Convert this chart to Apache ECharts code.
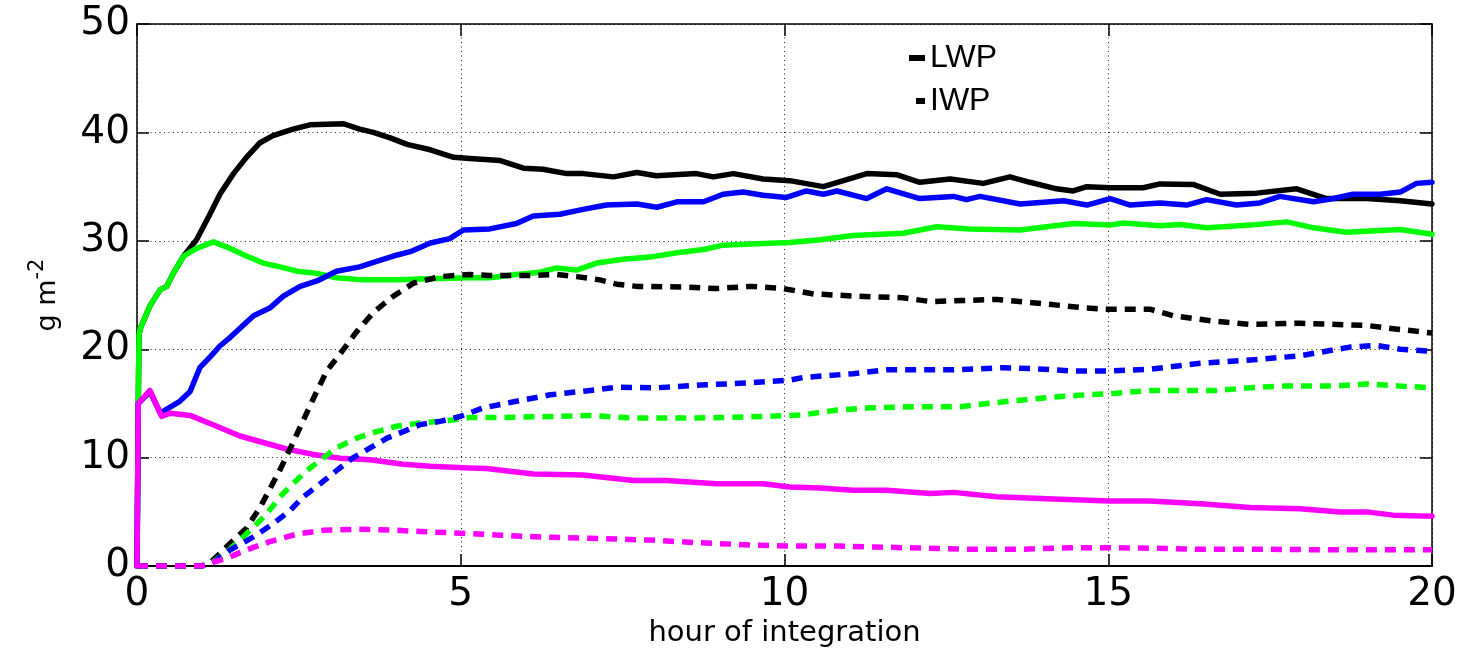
<!DOCTYPE html>
<html>
<head>
<meta charset="utf-8">
<script src="https://cdn.jsdelivr.net/npm/echarts@6/dist/echarts.min.js"></script>
<style>
html,body{margin:0;padding:0;background:#fff;}
#chart{width:1466px;height:653px;}
</style>
</head>
<body>
<div id="chart"></div>
<script>
// ---- data: [hour of integration, g m^-2] ----
var xTicks = [0, 5, 10, 15, 20];
var yTicks = [0, 10, 20, 30, 40, 50];

var lwpBlack = [[0,0],[0.02,15],[0.03,21.3],[0.05,21.9],[0.2,24.0],[0.36,25.5],[0.46,25.8],[0.56,27.0],[0.72,28.6],[0.92,30.1],[1.13,32.5],[1.28,34.3],[1.49,36.2],[1.69,37.7],[1.9,39.05],[2.1,39.7],[2.41,40.3],[2.67,40.7],[3.19,40.8],[3.44,40.3],[3.65,40.0],[3.91,39.5],[4.17,38.9],[4.53,38.4],[4.89,37.7],[5.14,37.6],[5.61,37.4],[5.97,36.7],[6.27,36.6],[6.64,36.2],[6.89,36.2],[7.36,35.9],[7.72,36.3],[8.02,36.0],[8.64,36.2],[8.9,35.9],[9.21,36.2],[9.67,35.7],[10.08,35.55],[10.6,35.0],[10.91,35.55],[11.27,36.2],[11.73,36.1],[12.09,35.4],[12.56,35.7],[13.07,35.3],[13.48,35.9],[13.79,35.4],[14.2,34.8],[14.46,34.6],[14.67,35.0],[15.03,34.9],[15.54,34.9],[15.8,35.25],[16.31,35.2],[16.73,34.3],[17.29,34.4],[17.91,34.8],[18.37,33.9],[18.99,33.9],[19.51,33.7],[20,33.4]];

var lwpGreen = [[0,0],[0.02,15],[0.03,21.3],[0.05,21.9],[0.2,24.0],[0.36,25.5],[0.46,25.8],[0.56,27.0],[0.72,28.6],[0.92,29.3],[1.18,29.9],[1.44,29.3],[1.69,28.6],[1.95,27.95],[2.21,27.6],[2.47,27.2],[2.78,27.0],[3.08,26.6],[3.49,26.4],[4.01,26.4],[4.53,26.5],[5.14,26.6],[5.45,26.6],[5.86,26.9],[6.22,27.1],[6.48,27.5],[6.79,27.3],[7.1,27.95],[7.51,28.3],[7.92,28.5],[8.34,28.9],[8.75,29.2],[9.05,29.6],[9.47,29.7],[10.08,29.85],[10.55,30.1],[11.06,30.5],[11.83,30.7],[12.35,31.3],[12.86,31.1],[13.64,31.0],[14.05,31.3],[14.46,31.6],[15.03,31.45],[15.23,31.65],[15.8,31.4],[16.11,31.5],[16.52,31.2],[17.19,31.45],[17.76,31.75],[18.17,31.2],[18.68,30.8],[19.51,31.05],[20,30.6]];

var lwpBlue = [[0,0],[0.02,15],[0.2,16.1],[0.36,14.1],[0.41,14.3],[0.66,15.2],[0.82,16.1],[0.97,18.3],[1.13,19.3],[1.28,20.3],[1.44,21.1],[1.8,23.1],[2.05,23.8],[2.26,24.9],[2.52,25.8],[2.78,26.3],[3.08,27.2],[3.44,27.6],[3.7,28.1],[3.96,28.6],[4.22,29.0],[4.53,29.8],[4.83,30.2],[5.04,31.0],[5.45,31.1],[5.86,31.6],[6.12,32.3],[6.53,32.45],[6.89,32.9],[7.25,33.3],[7.72,33.4],[8.03,33.1],[8.34,33.6],[8.75,33.6],[9.05,34.3],[9.36,34.5],[9.67,34.2],[10.03,34.0],[10.34,34.6],[10.6,34.3],[10.81,34.6],[11.27,33.9],[11.58,34.8],[12.09,33.9],[12.61,34.1],[12.81,33.8],[13.02,34.1],[13.64,33.4],[14.31,33.7],[14.67,33.3],[15.03,33.9],[15.34,33.3],[15.8,33.5],[16.21,33.3],[16.52,33.8],[16.98,33.3],[17.34,33.5],[17.65,34.1],[18.17,33.6],[18.48,33.9],[18.78,34.3],[19.2,34.3],[19.51,34.5],[19.76,35.3],[20,35.4]];

var lwpMagenta = [[0,0],[0.02,15],[0.2,16.2],[0.38,13.8],[0.51,14.1],[0.82,13.9],[1.23,12.9],[1.59,12.0],[1.95,11.4],[2.31,10.8],[2.72,10.3],[3.14,9.95],[3.6,9.8],[4.11,9.4],[4.53,9.2],[5.14,9.05],[5.4,9.0],[6.12,8.5],[6.89,8.4],[7.67,7.9],[8.18,7.9],[8.95,7.6],[9.67,7.6],[10.08,7.3],[10.55,7.2],[11.06,7.0],[11.58,7.0],[12.25,6.7],[12.61,6.8],[13.28,6.4],[14.15,6.2],[15.03,6.0],[15.64,6.0],[16.42,5.75],[17.19,5.4],[17.96,5.3],[18.58,5.0],[18.99,5.0],[19.4,4.7],[20,4.6]];

var iwpBlack = [[0,0],[1.0,0],[1.13,0.3],[1.44,2.1],[1.69,3.5],[1.9,5.4],[2.21,8.9],[2.41,11.4],[2.72,15.4],[2.93,18.0],[3.14,19.6],[3.39,21.6],[3.65,23.4],[3.96,24.9],[4.27,26.1],[4.68,26.7],[5.14,26.9],[5.45,26.8],[6.12,26.8],[6.48,26.9],[6.79,26.7],[7.15,26.4],[7.41,26.0],[7.72,25.8],[8.44,25.75],[8.95,25.6],[9.47,25.8],[9.98,25.6],[10.45,25.1],[11.11,24.9],[11.83,24.75],[12.25,24.4],[12.76,24.5],[13.28,24.6],[14.0,24.2],[14.67,23.8],[14.98,23.7],[15.64,23.7],[16.0,23.1],[16.62,22.6],[17.19,22.3],[17.96,22.4],[18.99,22.2],[19.4,21.9],[20,21.5]];

var iwpGreen = [[0,0],[1.0,0],[1.15,0.3],[1.33,1.0],[1.59,2.4],[1.8,3.6],[2.0,4.8],[2.21,6.4],[2.41,7.6],[2.62,8.8],[2.88,10.0],[3.08,10.9],[3.39,11.8],[3.7,12.4],[4.01,12.9],[4.37,13.2],[4.78,13.4],[5.14,13.7],[5.61,13.7],[6.38,13.8],[7.0,13.9],[7.67,13.65],[8.44,13.65],[9.05,13.7],[9.72,13.8],[10.29,13.95],[10.81,14.4],[11.32,14.6],[12.09,14.7],[12.71,14.7],[13.12,15.0],[13.64,15.3],[14.15,15.6],[14.67,15.8],[15.03,15.9],[15.64,16.2],[16.67,16.2],[17.19,16.45],[17.7,16.6],[18.48,16.6],[18.99,16.8],[19.51,16.6],[20,16.45]];

var iwpBlue = [[0,0],[1.0,0],[1.2,0.4],[1.44,1.5],[1.8,2.7],[2.1,3.9],[2.36,5.1],[2.57,6.4],[2.83,7.6],[3.08,8.8],[3.34,10.0],[3.6,10.9],[3.86,11.8],[4.11,12.4],[4.37,13.05],[4.68,13.35],[4.99,13.8],[5.35,14.6],[5.86,15.2],[6.38,15.8],[7.0,16.2],[7.41,16.5],[8.03,16.45],[8.7,16.7],[9.47,16.9],[10.08,17.15],[10.29,17.4],[11.06,17.75],[11.58,18.1],[12.61,18.1],[13.38,18.3],[13.89,18.2],[14.41,18.0],[15.03,18.0],[15.64,18.15],[16.42,18.7],[17.19,19.0],[17.96,19.4],[18.73,20.2],[19.15,20.35],[19.51,20.0],[20,19.8]];

var iwpMagenta = [[0,0],[1.0,0],[1.13,0.3],[1.38,0.7],[1.69,1.5],[2.05,2.25],[2.47,2.95],[2.88,3.3],[3.39,3.4],[4.01,3.3],[4.53,3.15],[5.14,3.0],[5.61,2.85],[6.38,2.65],[7.15,2.55],[7.92,2.4],[8.7,2.15],[9.47,1.95],[10.08,1.85],[10.81,1.85],[11.83,1.7],[12.86,1.55],[13.64,1.55],[14.41,1.7],[14.98,1.7],[15.64,1.65],[16.42,1.55],[17.45,1.55],[18.48,1.5],[20,1.5]];

var xAxisTitle = 'hour of integration';
var legendNames = ['LWP', 'IWP'];

// ---- chart ----
var chart = echarts.init(document.getElementById('chart'), null, {renderer: 'canvas'});

function solid(name, data, color) {
  return {
    name: name, type: 'line', data: data, showSymbol: false, symbol: 'none',
    xAxisIndex: 0, yAxisIndex: 0, animation: false, silent: true,
    itemStyle: {color: color},
    lineStyle: {color: color, width: 5.5, join: 'round', cap: 'round'}
  };
}
function dashed(name, data, color) {
  return {
    name: name, type: 'line', data: data, showSymbol: false, symbol: 'none',
    xAxisIndex: 0, yAxisIndex: 0, animation: false, silent: true,
    itemStyle: {color: color},
    lineStyle: {color: color, width: 5.5, type: [11, 8], cap: 'butt', join: 'round'}
  };
}

var tickFont = 'DejaVu Sans';
var gridDot = {color: '#222', width: 1, type: [1, 3.5]};

var option = {
  backgroundColor: '#fff',
  animation: false,
  grid: {left: 137, right: 34, top: 24, bottom: 80, containLabel: false,
         show: false},
  legend: [
    {data: [legendNames[0]], left: 909, top: 40, orient: 'vertical', padding: 0,
     icon: 'rect', itemWidth: 16, itemHeight: 6, itemGap: 0, selectedMode: false,
     textStyle: {fontFamily: 'Liberation Sans', fontSize: 32, color: '#000', lineHeight: 36}},
    {data: [legendNames[1]], left: 916, top: 83, orient: 'vertical', padding: 0,
     icon: 'rect', itemWidth: 9, itemHeight: 6, itemGap: 0, selectedMode: false,
     textStyle: {fontFamily: 'Liberation Sans', fontSize: 32, color: '#000', lineHeight: 36}}
  ],
  xAxis: [
    {type: 'value', min: xTicks[0], max: xTicks[xTicks.length - 1], interval: 5,
     position: 'bottom',
     name: xAxisTitle, nameLocation: 'middle', nameGap: 47,
     nameTextStyle: {fontFamily: tickFont, fontSize: 29, color: '#000'},
     axisLine: {show: true, onZero: false, lineStyle: {color: '#000', width: 2}},
     axisTick: {show: true, inside: true, length: 12, lineStyle: {color: '#000', width: 1.5}},
     axisLabel: {show: true, margin: 9, fontFamily: tickFont, fontSize: 39, color: '#000'},
     splitLine: {show: true, lineStyle: gridDot}},
    {type: 'value', min: xTicks[0], max: xTicks[xTicks.length - 1], interval: 5,
     position: 'top',
     axisLine: {show: true, onZero: false, lineStyle: {color: '#000', width: 1.5}},
     axisTick: {show: true, inside: true, length: 12, lineStyle: {color: '#000', width: 1.5}},
     axisLabel: {show: false}, splitLine: {show: false}}
  ],
  yAxis: [
    {type: 'value', min: yTicks[0], max: yTicks[yTicks.length - 1], interval: 10,
     position: 'left',
     name: '{b|g m}{s|-2}', nameLocation: 'middle', nameGap: 76, nameRotate: 90,
     nameTextStyle: {color: '#000', rich: {
       b: {fontFamily: tickFont, fontSize: 27, color: '#000', verticalAlign: 'bottom', lineHeight: 34},
       s: {fontFamily: tickFont, fontSize: 21, color: '#000', verticalAlign: 'top', lineHeight: 34}
     }},
     axisLine: {show: true, onZero: false, lineStyle: {color: '#000', width: 1.5}},
     axisTick: {show: true, inside: true, length: 12, lineStyle: {color: '#000', width: 1.5}},
     axisLabel: {show: true, margin: 7, fontFamily: tickFont, fontSize: 39, color: '#000'},
     splitLine: {show: true, lineStyle: gridDot}},
    {type: 'value', min: yTicks[0], max: yTicks[yTicks.length - 1], interval: 10,
     position: 'right',
     axisLine: {show: true, onZero: false, lineStyle: {color: '#000', width: 1.5}},
     axisTick: {show: true, inside: true, length: 12, lineStyle: {color: '#000', width: 1.5}},
     axisLabel: {show: false}, splitLine: {show: false}}
  ],
  series: [
    solid('LWP', lwpBlack, '#000000'),
    solid('LWP green', lwpGreen, '#00ff00'),
    solid('LWP blue', lwpBlue, '#0000ff'),
    solid('LWP magenta', lwpMagenta, '#ff00ff'),
    dashed('IWP', iwpBlack, '#000000'),
    dashed('IWP green', iwpGreen, '#00ff00'),
    dashed('IWP blue', iwpBlue, '#0000ff'),
    dashed('IWP magenta', iwpMagenta, '#ff00ff')
  ]
};
chart.setOption(option);
</script>
</body>
</html>
